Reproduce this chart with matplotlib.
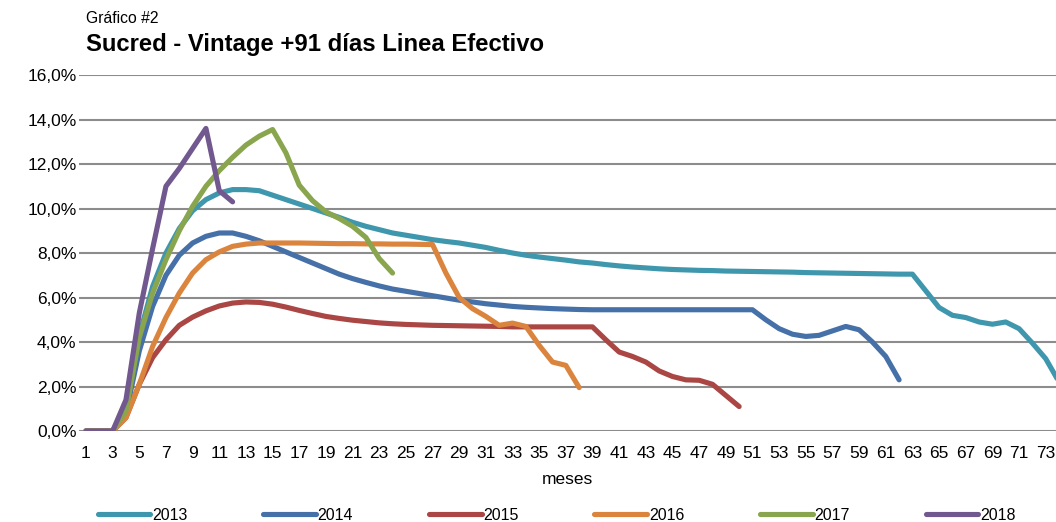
"""
Sucred - Vintage +91 dias, Linea Efectivo.
Curvas de mora por cosecha (2013-2018) vs meses.
"""

import numpy as np
import matplotlib.pyplot as plt

# meses 1..74
meses = np.arange(1, 75)

v2013 = [0, 0, 0, 1.0, 4.3, 6.5, 8.0, 9.1, 9.9, 10.4, 10.7, 10.85, 10.85, 10.8,
         10.6, 10.4, 10.2, 10.0, 9.8, 9.6, 9.38, 9.2, 9.05, 8.9, 8.8, 8.7, 8.6,
         8.52, 8.45, 8.35, 8.25, 8.12, 8.0, 7.9, 7.82, 7.75, 7.68, 7.6, 7.55,
         7.48, 7.42, 7.37, 7.33, 7.29, 7.26, 7.24, 7.22, 7.21, 7.19, 7.18, 7.17,
         7.16, 7.15, 7.14, 7.12, 7.11, 7.1, 7.09, 7.08, 7.07, 7.06, 7.05, 7.05,
         6.3, 5.55, 5.2, 5.1, 4.9, 4.8, 4.9, 4.6, 3.95, 3.25, 2.2]
v2014 = [0, 0, 0, 0.8, 3.6, 5.6, 7.0, 7.9, 8.45, 8.75, 8.9, 8.9, 8.75, 8.55,
         8.3, 8.05, 7.8, 7.55, 7.3, 7.05, 6.85, 6.68, 6.52, 6.38, 6.28, 6.18,
         6.08, 5.98, 5.88, 5.8, 5.72, 5.66, 5.6, 5.56, 5.53, 5.5, 5.48, 5.46,
         5.45, 5.45, 5.45, 5.45, 5.45, 5.45, 5.45, 5.45, 5.45, 5.45, 5.45, 5.45,
         5.45, 5.0, 4.6, 4.35, 4.25, 4.3, 4.5, 4.7, 4.55, 4.0, 3.35, 2.3]
v2015 = [0, 0, 0, 0.6, 2.1, 3.3, 4.1, 4.75, 5.12, 5.4, 5.62, 5.75, 5.8, 5.78,
         5.7, 5.57, 5.42, 5.28, 5.15, 5.06, 4.98, 4.92, 4.86, 4.82, 4.79, 4.77,
         4.75, 4.74, 4.73, 4.72, 4.71, 4.7, 4.68, 4.68, 4.68, 4.68, 4.68, 4.68,
         4.68, 4.1, 3.55, 3.35, 3.1, 2.7, 2.45, 2.3, 2.28, 2.1, 1.6, 1.1]
v2016 = [0, 0, 0, 0.6, 2.1, 3.8, 5.1, 6.2, 7.1, 7.7, 8.05, 8.3, 8.4, 8.45,
         8.45, 8.45, 8.45, 8.44, 8.43, 8.42, 8.42, 8.41, 8.41, 8.4, 8.4, 8.39,
         8.38, 7.1, 6.0, 5.5, 5.15, 4.75, 4.85, 4.7, 3.85, 3.1, 2.95, 1.95]
v2017 = [0, 0, 0, 0.9, 4.2, 6.2, 7.7, 9.0, 10.1, 11.0, 11.7, 12.3, 12.85, 13.25,
         13.55, 12.5, 11.05, 10.35, 9.85, 9.55, 9.2, 8.7, 7.75, 7.1]
v2018 = [0, 0, 0, 1.4, 5.3, 8.2, 11.0, 11.8, 12.7, 13.6, 10.8, 10.3]

series = [("2013", v2013, "#3f97ae"), ("2014", v2014, "#4570a8"),
          ("2015", v2015, "#aa4643"), ("2016", v2016, "#db843d"),
          ("2017", v2017, "#89a54e"), ("2018", v2018, "#71588f")]

plt.rcParams['font.family'] = ['Liberation Sans', 'DejaVu Sans']

fig = plt.figure(figsize=(10.56, 5.22), dpi=100)
ax = fig.add_axes([0.0751, 0.1743, 0.9249, 0.682])

for name, vals, col in series:
    ax.plot(meses[:len(vals)], vals, color=col, lw=3.7, label=name,
            solid_capstyle='round', solid_joinstyle='round', zorder=3)

ax.set_xlim(0.5, 73.77)
ax.set_ylim(0, 16)
ax.set_yticks(np.arange(0, 17, 2))
ax.set_yticklabels([f"{v:.1f}%".replace(".", ",") for v in np.arange(0, 17, 2)])
ax.set_xticks(np.arange(1, 74, 2))
ax.tick_params(length=0, labelsize=12.5, colors='black')
ax.tick_params(axis='y', pad=2)
ax.tick_params(axis='x', pad=11)
ax.grid(axis='y', color='#8c8c8c', lw=1.5, zorder=1)
for s in ax.spines.values():
    s.set_visible(False)

ax.set_xlabel("meses", fontsize=12.5, labelpad=8)

fig.text(0.0815, 0.9655, "Gráfico #2", fontsize=11.3, va='center')
fig.text(0.0815, 0.914, "Sucred - Vintage +91 días Linea Efectivo",
         fontsize=17.2, fontweight='bold', va='center')

fig.legend(loc='center', bbox_to_anchor=(0.527, 0.013), ncol=6, frameon=False,
           fontsize=11.5, handlelength=3.3, handletextpad=0.1,
           columnspacing=4.75)

fig.savefig("out.png", dpi=100)
